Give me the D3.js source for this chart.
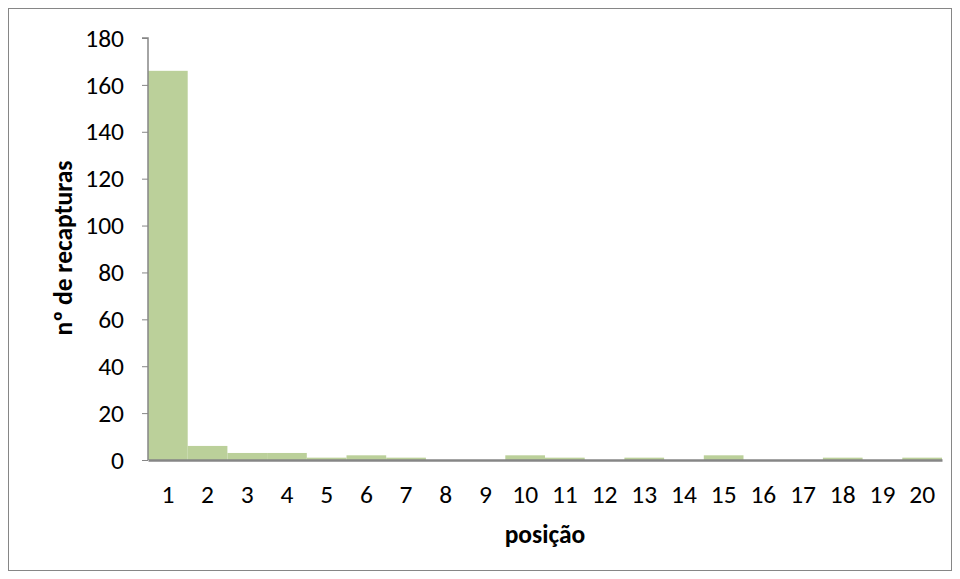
<!DOCTYPE html>
<html><head><meta charset="utf-8">
<script src="https://cdn.jsdelivr.net/npm/d3@7"></script>
<style>body{margin:0;background:#fff}svg{display:block}</style>
</head><body><svg id="c" width="960" height="579"></svg>
<script>
const categories = ["1","2","3","4","5","6","7","8","9","10","11","12","13","14","15","16","17","18","19","20"];
const values = [166,6,3,3,1,2,1,0,0,2,1,0,1,0,2,0,0,1,0,1];
const yTicks = [0,20,40,60,80,100,120,140,160,180];
const xTitle = "posição";
const yTitle = "nº de recapturas";

const svg = d3.select("#c");
const font = "Carlito, Calibri, Lato, sans-serif";
const fs = 25.5;
svg.append("rect").attr("x",8.5).attr("y",8.5).attr("width",943).attr("height",562)
  .attr("fill","#fff").attr("stroke","#868686").attr("stroke-width",1);

const m = {l:148, r:942, t:38, b:460};
const x = d3.scaleBand().domain(categories).range([m.l, m.r]).padding(0);
const y = d3.scaleLinear().domain([0,180]).range([m.b, m.t]);

svg.append("g").selectAll("rect").data(values).join("rect")
  .attr("x",(d,i)=>x(categories[i]))
  .attr("width",x.bandwidth())
  .attr("y",d=>y(d))
  .attr("height",d=>y(0)-y(d))
  .attr("fill","#bbd09a");

const ya = svg.append("g").attr("transform",`translate(${m.l},0)`)
  .call(d3.axisLeft(y).tickValues(yTicks).tickSize(6).tickPadding(18));
ya.select(".domain").attr("stroke","#868686").attr("stroke-width",1.5).attr("d",`M-6,${m.t}H0V${m.b}`);
ya.selectAll(".tick line").attr("stroke","#868686");
ya.selectAll("text").attr("font-family",font).attr("font-size",fs).attr("fill","#000");

const xa = svg.append("g").attr("transform",`translate(0,${m.b})`)
  .call(d3.axisBottom(x).tickSize(0).tickPadding(25));
xa.select(".domain").attr("stroke","#868686").attr("stroke-width",2.5);
xa.selectAll("text").attr("font-family",font).attr("font-size",fs).attr("fill","#000");

svg.append("text").attr("x",545).attr("y",543).attr("text-anchor","middle")
  .attr("font-family",font).attr("font-weight","bold").attr("font-size",fs).text(xTitle);
svg.append("text").attr("transform","translate(72,248) rotate(-90)").attr("text-anchor","middle")
  .attr("font-family",font).attr("font-weight","bold").attr("font-size",fs).text(yTitle);
</script></body></html>
